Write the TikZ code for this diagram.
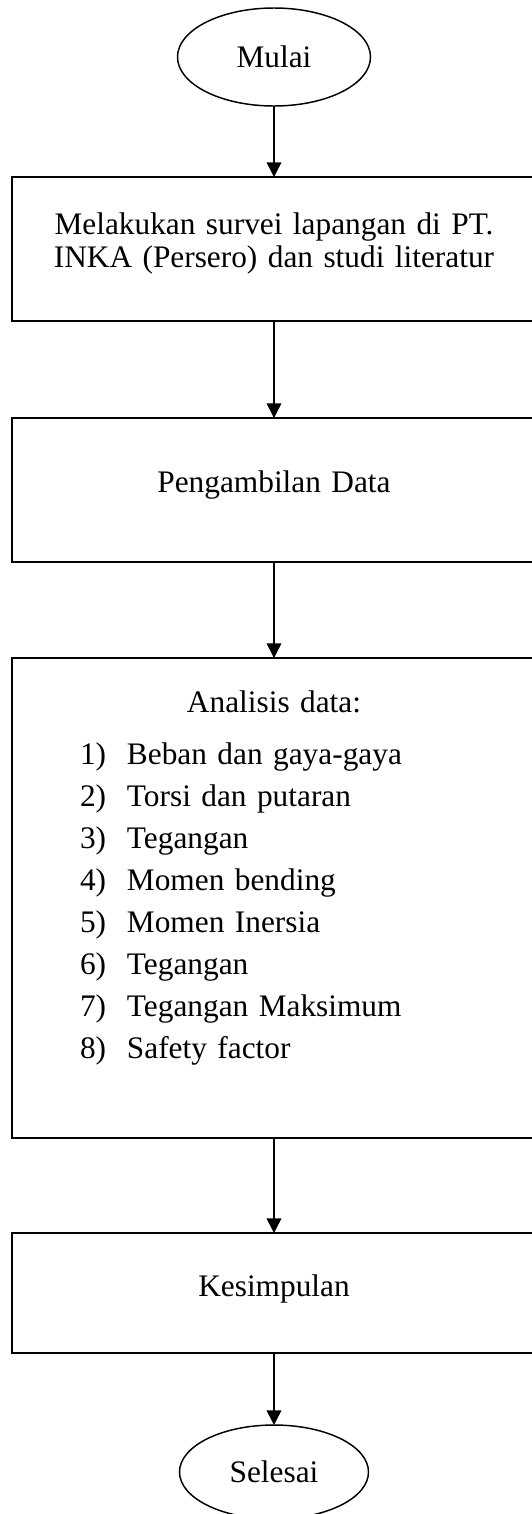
\documentclass[tikz,border=0pt]{standalone}
\usepackage{fontspec}
\setmainfont{Liberation Serif}
\usepackage{tikz}
\usetikzlibrary{arrows.meta,positioning,shapes.geometric}

\begin{document}
\begin{tikzpicture}[
  terminal/.style={draw,ellipse,line width=1.1pt,inner sep=0pt,outer sep=0pt,
    font=\fontsize{23.5}{24.75}\selectfont},
  process/.style={draw,line width=1.5pt,inner xsep=6pt,inner ysep=0pt,outer sep=0pt,
    minimum width=393pt,text width=381pt,align=center,
    font=\fontsize{23.5}{24.75}\selectfont},
  flow/.style={line width=1.1pt,-{Triangle[length=11pt,width=11pt]}}
]
\useasboundingbox (0,0) rectangle (399pt,-1135.5pt);
\node[terminal,minimum width=144.75pt,minimum height=73.5pt] (mulai) at (205.5pt,-42.75pt) {Mulai};
\node[process,below=53.25pt of mulai,text height=42.75pt,text depth=65.25pt] (survei)
  {Melakukan survei lapangan di PT.\\INKA (Persero) dan studi literatur};
\node[process,below=72.75pt of survei,text height=55.5pt,text depth=52.5pt] (data) {Pengambilan Data};
\node[process,below=72pt of data,text height=40.5pt,text depth=319.5pt,
  inner xsep=51pt,text width=291pt,align=left,
  font=\fontsize{23.5}{31.5}\selectfont] (analisis)
  {\makebox[\linewidth]{Analisis data:}\\[7.5pt]
   \makebox[35.25pt][l]{1)}Beban dan gaya-gaya\\
   \makebox[35.25pt][l]{2)}Torsi dan putaran\\
   \makebox[35.25pt][l]{3)}Tegangan\\
   \makebox[35.25pt][l]{4)}Momen bending\\
   \makebox[35.25pt][l]{5)}Momen Inersia\\
   \makebox[35.25pt][l]{6)}Tegangan\\
   \makebox[35.25pt][l]{7)}Tegangan Maksimum\\
   \makebox[35.25pt][l]{8)}Safety factor};
\node[process,below=71.25pt of analisis,text height=47.25pt,text depth=42.75pt] (simpulan) {Kesimpulan};
\node[terminal,below=54pt of simpulan,minimum width=141.75pt,minimum height=70.5pt] (selesai) {Selesai};
\draw[flow] (mulai) -- (survei);
\draw[flow] (survei) -- (data);
\draw[flow] (data) -- (analisis);
\draw[flow] (analisis) -- (simpulan);
\draw[flow] (simpulan) -- (selesai);
\end{tikzpicture}
\end{document}
